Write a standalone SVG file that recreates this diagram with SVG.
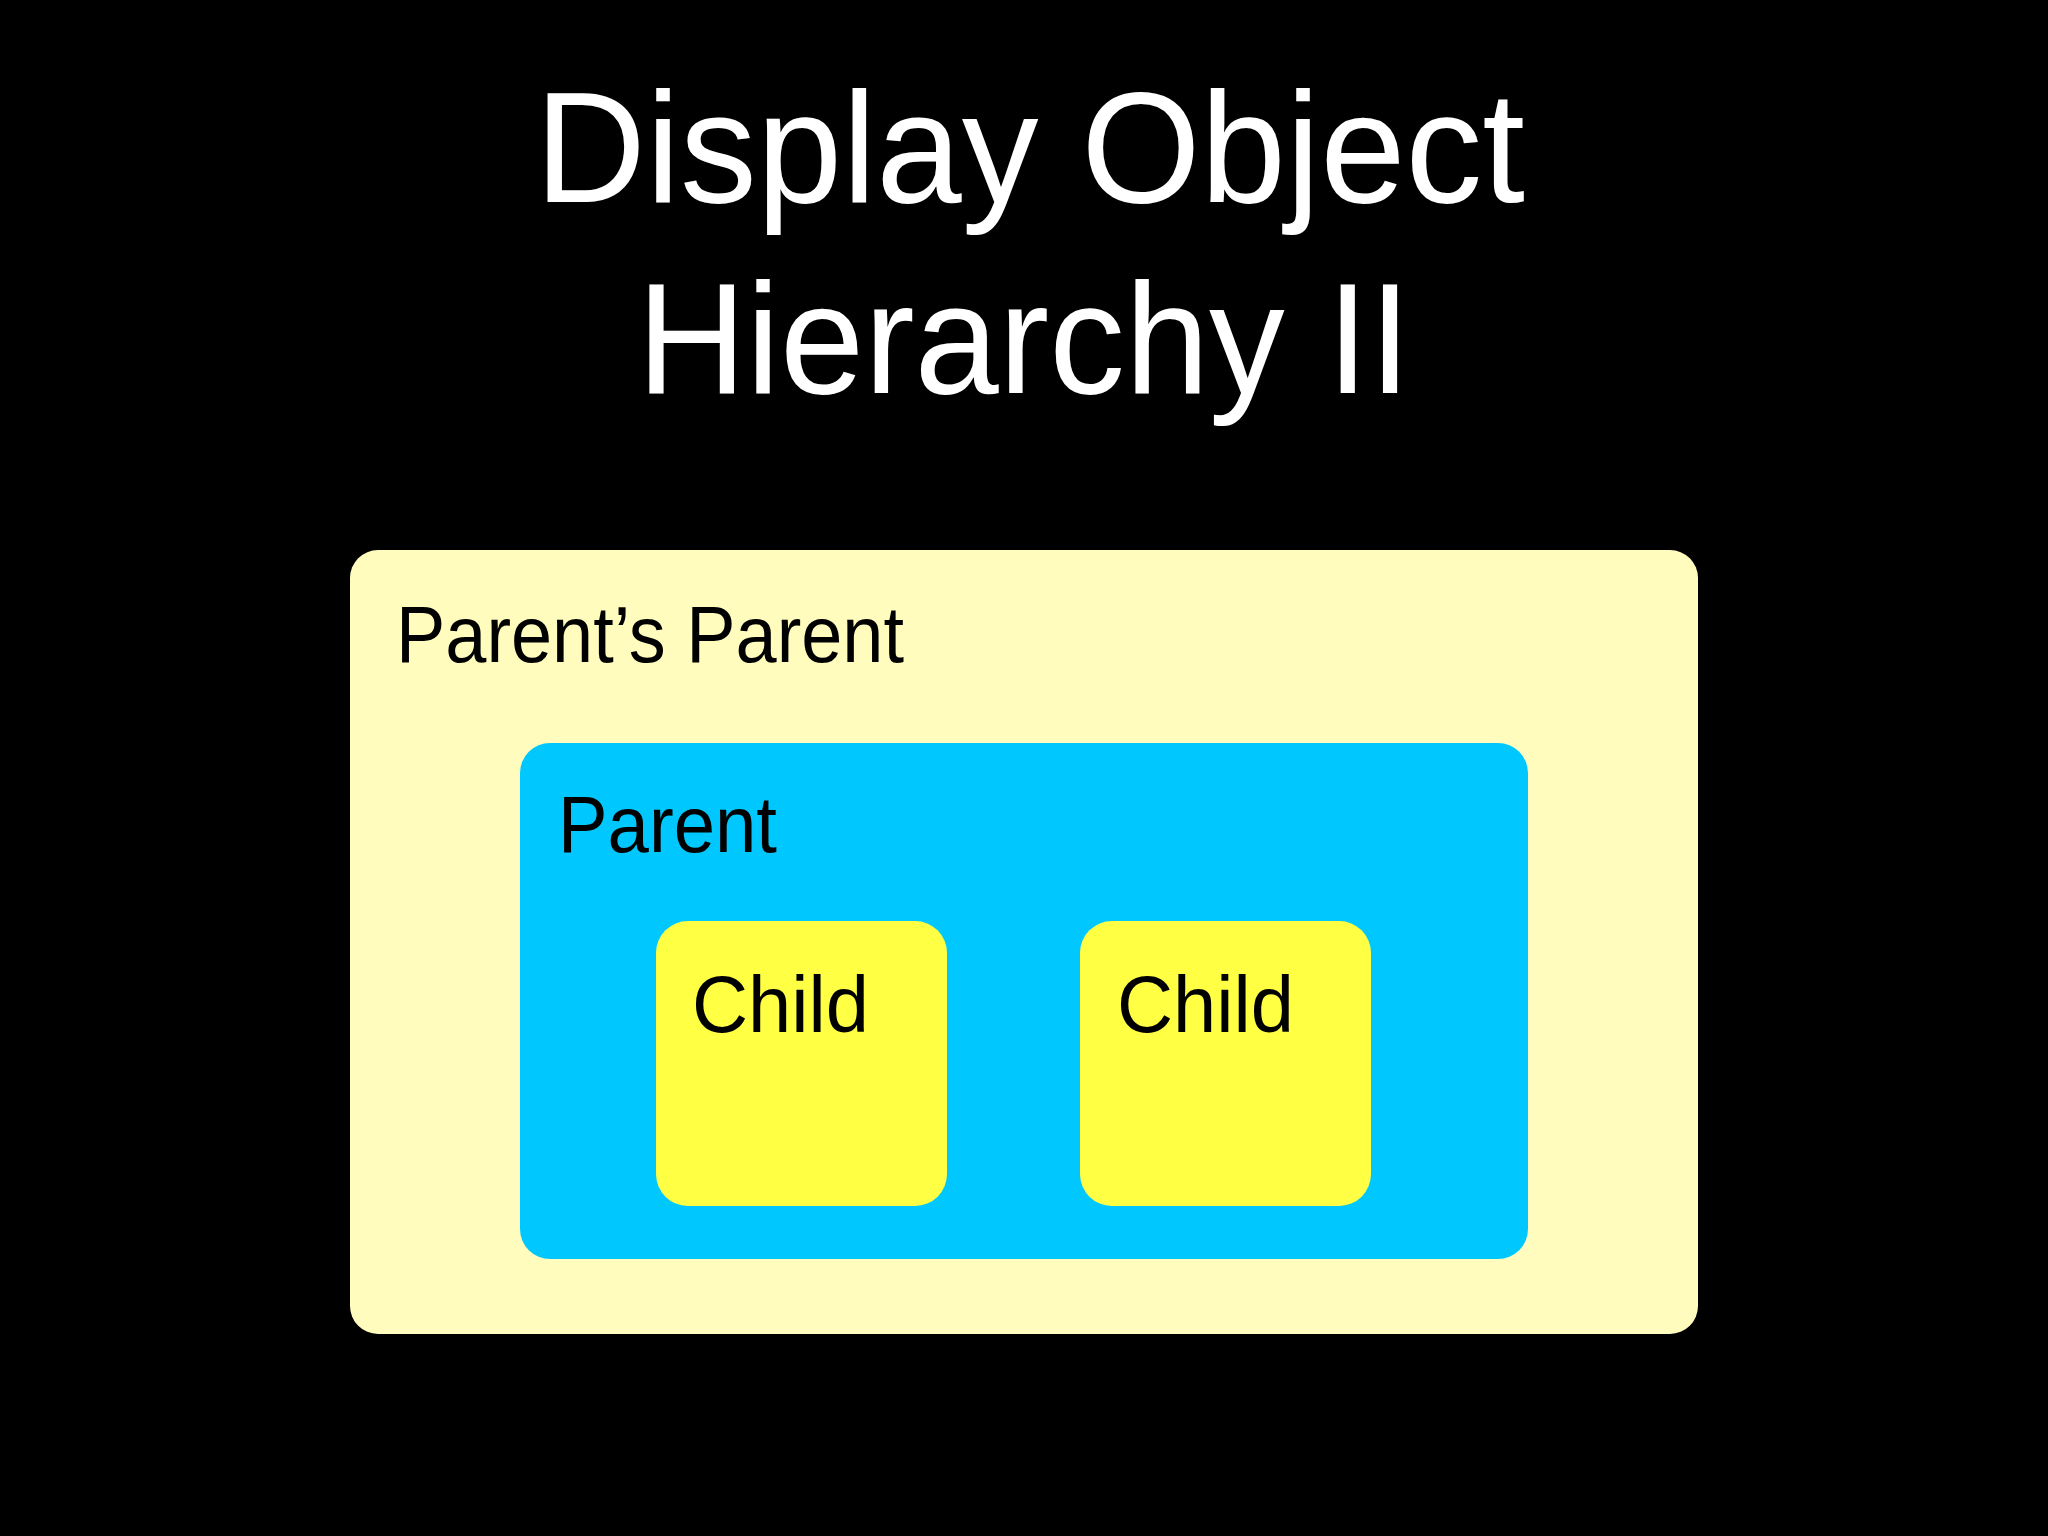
<svg xmlns="http://www.w3.org/2000/svg" width="2048" height="1536" viewBox="0 0 2048 1536">
<style>
.title{font-family:"Liberation Sans",Arial,sans-serif;font-size:158px;fill:#ffffff;text-anchor:middle}
.lbl{font-family:"Liberation Sans",Arial,sans-serif;font-size:80px;fill:#000000}
.child{fill:#ffff44}
</style>
<rect x="0" y="0" width="2048" height="1536" fill="#000000"/>
<g id="title">
<text class="title" x="1030" y="202" textLength="990" lengthAdjust="spacingAndGlyphs">Display Object</text>
<text class="title" x="1024" y="393" textLength="774" lengthAdjust="spacingAndGlyphs">Hierarchy II</text>
</g>
<g id="grandparent">
<rect x="350" y="550" width="1348" height="784" rx="28" ry="28" fill="#fffcbe"/>
<text class="lbl" x="396" y="662" textLength="508" lengthAdjust="spacingAndGlyphs">Parent’s Parent</text>
</g>
<g id="parent">
<rect x="520" y="743" width="1008" height="516" rx="30" ry="30" fill="#00c8ff"/>
<text class="lbl" x="558" y="852" textLength="219" lengthAdjust="spacingAndGlyphs">Parent</text>
</g>
<g id="child1">
<rect class="child" x="656" y="921" width="291" height="285" rx="32" ry="32"/>
<text class="lbl" x="692" y="1032" textLength="177" lengthAdjust="spacingAndGlyphs">Child</text>
</g>
<g id="child2">
<rect class="child" x="1080" y="921" width="291" height="285" rx="32" ry="32"/>
<text class="lbl" x="1117" y="1032" textLength="177" lengthAdjust="spacingAndGlyphs">Child</text>
</g>
<g id="connectors"></g>
</svg>
